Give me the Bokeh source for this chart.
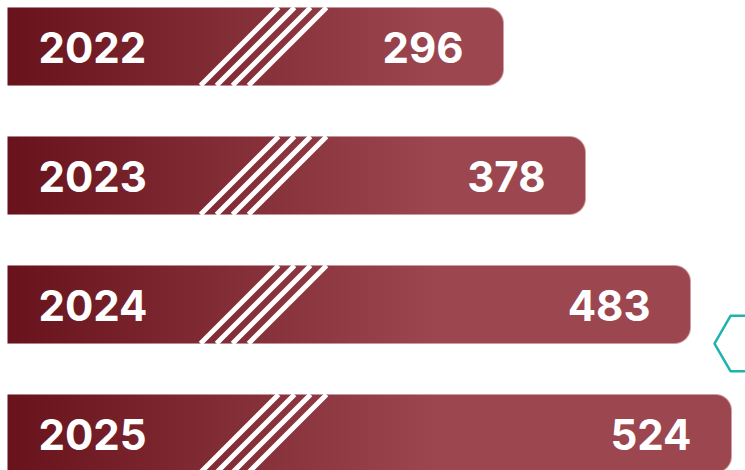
import numpy as np
from bokeh.plotting import figure
from bokeh.models import Range1d, ColumnDataSource
from bokeh.core.properties import value
from bokeh.embed import file_html
from bokeh.resources import INLINE

# ---- data ----
years = ["2022", "2023", "2024", "2025"]
counts = [296, 378, 483, 524]

# ---- layout / style ----
W, H = 745, 470
BASE = -200          # visual start of every bar (data units = px)
LEFT_PAD = 7
BAR_H = 0.605
Y0, Y1 = -0.2868, 3.3566
PX_PER_Y = H / (Y1 - Y0)
RADIUS = 16
RAMP = 430
C_DARK = np.array([0x68, 0x12, 0x1c], dtype=float)
C_LIGHT = np.array([0x9c, 0x46, 0x50], dtype=float)

p = figure(width=W, height=H, x_range=Range1d(BASE - LEFT_PAD, BASE - LEFT_PAD + W),
           y_range=Range1d(Y0, Y1),
           output_backend="svg", toolbar_location=None, min_border=0)
p.axis.visible = False
p.grid.visible = False
p.outline_line_color = None
p.background_fill_color = "white"
p.border_fill_color = "white"

n = len(years)
ypos = [n - 1 - i for i in range(n)]
src = ColumnDataSource(dict(y=ypos, left=[BASE] * n, right=counts, year=years,
                            label=[str(c) for c in counts]))


def bar_image(length_px, height_px):
    """Gradient bar with rounded right corners, 1 source px per screen px."""
    C = int(round(length_px))
    R = int(round(height_px))
    cc = np.arange(C) + 0.5
    rr = np.arange(R) + 0.5
    t = np.clip(cc / (RAMP - 1), 0, 1)
    cols = (C_DARK[None, :] * (1 - t[:, None]) + C_LIGHT[None, :] * t[:, None])
    X, Y = np.meshgrid(cc, rr)
    alpha = np.ones((R, C))
    cx = C - RADIUS
    for cy in (RADIUS, R - RADIUS):
        mask = (X > cx) & (((Y < RADIUS) & (cy == RADIUS)) | ((Y > R - RADIUS) & (cy == R - RADIUS)))
        d = np.sqrt((X - cx) ** 2 + (Y - cy) ** 2)
        a = np.clip(RADIUS + 0.5 - d, 0, 1)
        alpha = np.where(mask, np.minimum(alpha, a), alpha)
    img = np.empty((R, C), dtype=np.uint32)
    view = img.view(dtype=np.uint8).reshape((R, C, 4))
    view[:, :, 0] = np.round(cols[None, :, 0]).astype(np.uint8)
    view[:, :, 1] = np.round(cols[None, :, 1]).astype(np.uint8)
    view[:, :, 2] = np.round(cols[None, :, 2]).astype(np.uint8)
    view[:, :, 3] = np.round(alpha * 255).astype(np.uint8)
    return img


bar_px_h = BAR_H * PX_PER_Y
imgs = [bar_image(c - BASE, bar_px_h) for c in counts]
p.image_rgba(image=imgs, x=[BASE] * n, y=[yy - BAR_H / 2 for yy in ypos],
             dw=[c - BASE for c in counts], dh=[BAR_H] * n)

# diagonal white stripes
dx = bar_px_h
offs = [193, 209, 225, 241]
sx0, sy0, sx1, sy1 = [], [], [], []
for yy in ypos:
    for o in offs:
        sx0.append(BASE + o)
        sy0.append(yy - BAR_H / 2)
        sx1.append(BASE + o + dx)
        sy1.append(yy + BAR_H / 2)
p.segment(x0=sx0, y0=sy0, x1=sx1, y1=sy1, line_color="white", line_width=5)

# labels
p.text(x="left", y="y", text="year", source=src, x_offset=31, y_offset=1,
       text_align="left", text_baseline="middle", text_color="white",
       text_font=value("Inter"), text_font_style="bold", text_font_size="42px")
p.text(x="right", y="y", text="label", source=src, x_offset=-40, y_offset=1,
       text_align="right", text_baseline="middle", text_color="white",
       text_font=value("Inter"), text_font_style="bold", text_font_size="42px")

# decorative hexagon outline
p.scatter(x=[BASE + 739], y=[ypos[2] - BAR_H / 2], marker="hex", size=64,
          fill_alpha=0, line_color="#1db3ae", line_width=2.5)

open("out.html", "w").write(file_html(p, INLINE))
